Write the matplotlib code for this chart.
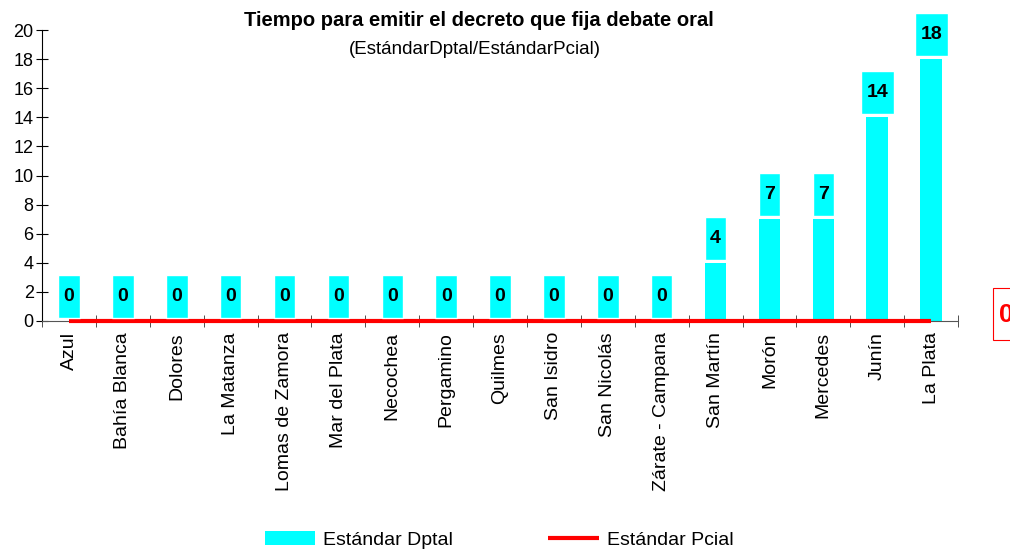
import matplotlib.pyplot as plt
from matplotlib.patches import Rectangle
import numpy as np

plt.rcParams['font.family'] = ['Liberation Sans', 'DejaVu Sans']

# Departamentos judiciales
departamentos = ['Azul', 'Bahía Blanca', 'Dolores', 'La Matanza', 'Lomas de Zamora',
                 'Mar del Plata', 'Necochea', 'Pergamino', 'Quilmes', 'San Isidro',
                 'San Nicolás', 'Zárate - Campana', 'San Martín', 'Morón', 'Mercedes',
                 'Junín', 'La Plata']

# Estándar departamental y provincial
estandar_dptal = [0, 0, 0, 0, 0, 0, 0, 0, 0, 0, 0, 0, 4, 7, 7, 14, 18]
estandar_pcial = [0, 0, 0, 0, 0, 0, 0, 0, 0, 0, 0, 0, 0, 0, 0, 0, 0]

cyan = '#00FFFF'
rojo = '#FF0000'

fig = plt.figure(figsize=(10.1, 5.5), dpi=100)
ax = fig.add_axes([0.0416, 0.4164, 0.907, 0.529])

x = np.arange(len(departamentos))
ancho = 0.4

barras = ax.bar(x, estandar_dptal, ancho, color=cyan, label='Estándar Dptal', zorder=2)
linea, = ax.plot(x, estandar_pcial, color=rojo, linewidth=3, label='Estándar Pcial',
                 zorder=3, solid_capstyle='butt', clip_on=False)

# Etiquetas con caja sobre cada columna
for xi, v in zip(x, estandar_dptal):
    texto = str(v)
    w = 0.4 if len(texto) == 1 else 0.61
    caja = Rectangle((xi - w / 2, v + 0.2), w, 2.95, facecolor=cyan,
                     edgecolor='white', linewidth=1, clip_on=False, zorder=4)
    ax.add_patch(caja)
    ax.text(xi, v + 1.68, texto, ha='center', va='center', fontsize=14,
            fontweight='bold', zorder=5, clip_on=False)

ax.set_xlim(-0.5, len(departamentos) - 0.5)
ax.set_ylim(0, 20)
ax.set_yticks(np.arange(0, 21, 2))
ax.tick_params(axis='y', direction='inout', length=8, labelsize=13, pad=2)

ax.set_xticks(x)
ax.set_xticklabels(departamentos, rotation=90, fontsize=14)
ax.tick_params(axis='x', length=0, pad=8)
ax.set_xticks(np.arange(-0.5, len(departamentos), 1), minor=True)
ax.tick_params(axis='x', which='minor', direction='inout', length=8, color='#333333')

ax.spines['top'].set_visible(False)
ax.spines['right'].set_visible(False)
ax.spines['bottom'].set_color('#555555')

fig.text(0.474, 0.963, 'Tiempo para emitir el decreto que fija debate oral',
         ha='center', va='center', fontsize=14.5, fontweight='bold')
fig.text(0.47, 0.91, '(EstándarDptal/EstándarPcial)', ha='center', va='center',
         fontsize=13.5)

# Etiqueta del estándar provincial (recortada en el borde, como en el original)
fig.patches.append(Rectangle((0.983, 0.382), 0.05, 0.094, transform=fig.transFigure,
                             facecolor='white', edgecolor=rojo, linewidth=0.8))
fig.text(0.989, 0.427, '0', ha='left', va='center', fontsize=19, fontweight='bold',
         color=rojo)

fig.legend([barras, linea], ['Estándar Dptal', 'Estándar Pcial'], loc='center',
           bbox_to_anchor=(0.494, 0.018), ncol=2, frameon=False, fontsize=14,
           handlelength=2.6, columnspacing=4.9, handletextpad=0.4)

fig.savefig('out.png', dpi=100)
